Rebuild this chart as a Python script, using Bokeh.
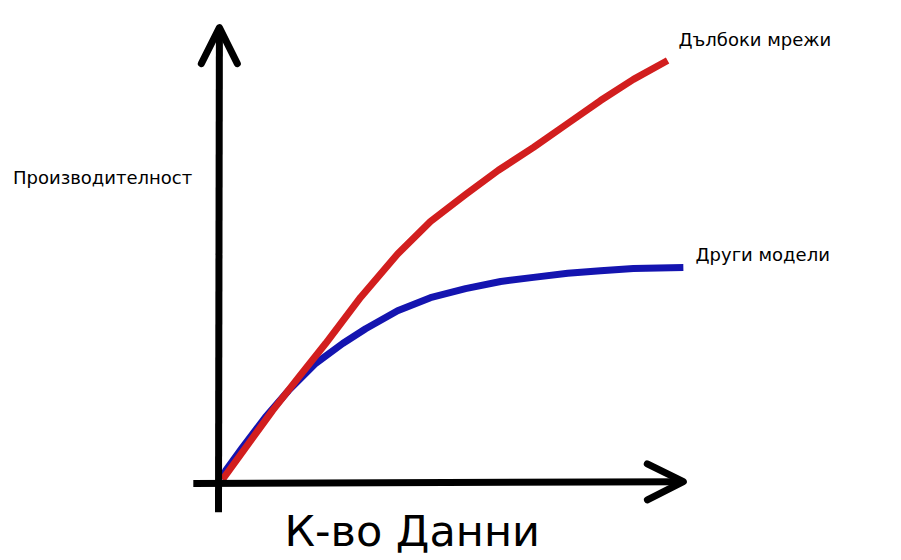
from bokeh.plotting import figure
from bokeh.models import Range1d, Arrow, OpenHead, Label
from bokeh.embed import file_html
from bokeh.resources import INLINE

# Data (arbitrary units: amount of data vs. performance)
deep_x = [0.9, 6.7, 12.0, 17.8, 23.8, 31.6, 39.8, 47.1, 54.9, 62.2, 70.0, 77.6, 84.9, 92.2, 99.8]
deep_y = [0.9, 8.9, 16.2, 23.6, 31.1, 41.4, 51.0, 58.2, 64.2, 69.6, 74.7, 80.0, 85.1, 89.8, 94.0]

other_x = [0.9, 1.6, 5.3, 10.4, 15.6, 21.6, 27.6, 32.7, 39.8, 47.1, 54.9, 62.7, 70.0, 77.6, 84.9, 92.2, 103.3]
other_y = [0.9, 2.9, 8.0, 14.7, 20.7, 26.7, 31.1, 34.4, 38.4, 41.3, 43.3, 44.9, 45.8, 46.7, 47.3, 47.8, 48.0]

series_labels = ["Дълбоки мрежи", "Други модели"]
y_title = "Производителност"
x_title = "К-во Данни"

FONT = "DejaVu Sans"
W, H = 901, 560
S = 4.5  # pixels per data unit

p = figure(width=W, height=H, output_backend="svg", toolbar_location=None,
           x_range=Range1d(-218 / S, (W - 218) / S),
           y_range=Range1d((483 - H) / S, 483 / S),
           min_border=0, outline_line_color=None, background_fill_color="white")
p.xaxis.visible = False
p.yaxis.visible = False
p.grid.visible = False

# axes drawn as arrows
p.add_layout(Arrow(x_start=0, y_start=-6.4, x_end=0.2, y_end=101.3,
                   line_width=7, line_color="black",
                   end=OpenHead(size=36, line_width=7, line_color="black",
                                line_cap="round", line_join="round")))
p.add_layout(Arrow(x_start=-5.6, y_start=0, x_end=103.3, y_end=0.4,
                   line_width=7, line_color="black",
                   end=OpenHead(size=36, line_width=7, line_color="black",
                                line_cap="round", line_join="round")))

p.line(other_x, other_y, line_width=7, line_color="#1414b0", line_join="round")
p.line(deep_x, deep_y, line_width=7, line_color="#d21e1e", line_join="round")

def lab(txt, x, y, size):
    p.add_layout(Label(x=x, y=y, x_units="screen", y_units="screen", text=txt,
                       text_font=FONT, text_font_size=size, text_color="black",
                       text_baseline="alphabetic", text_align="left"))

lab(y_title, 12.5, H - 177.3, "18px")
lab(series_labels[0], 678, H - 38.7, "18px")
lab(series_labels[1], 695, H - 253.7, "18px")
lab(x_title, 284, H - 530.5, "43px")

open("out.html", "w").write(file_html(p, INLINE))
